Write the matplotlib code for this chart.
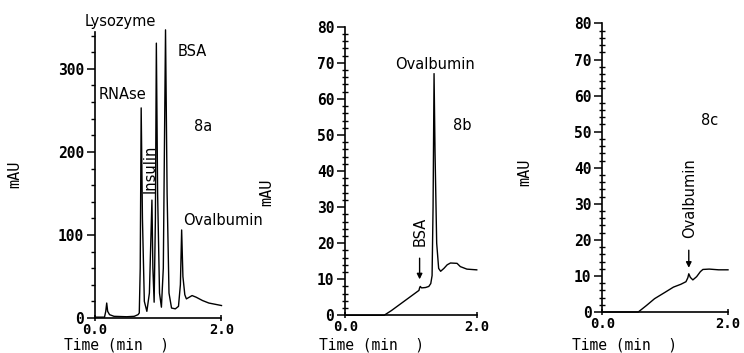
import numpy as np
import matplotlib
matplotlib.use("Agg")
import matplotlib.pyplot as plt
from matplotlib.ticker import MultipleLocator, FixedLocator

# chromatogram traces (time in min, absorbance in mAU)
time_a = [0.0, 0.15, 0.17, 0.185, 0.20, 0.23, 0.30, 0.50, 0.62, 0.68, 0.70, 0.715, 0.73, 0.75,
          0.78, 0.82, 0.86, 0.90, 0.915, 0.935, 0.955, 0.97, 0.99, 1.02, 1.05, 1.08, 1.115,
          1.14, 1.17, 1.21, 1.27, 1.32, 1.35, 1.37, 1.39, 1.42, 1.445, 1.49, 1.535, 1.60,
          1.70, 1.80, 1.90, 2.0]
mau_a = [1, 1, 8, 18, 8, 4, 2, 1.5, 2, 4, 6, 60, 253, 120,
         20, 8, 30, 142, 60, 19, 120, 331, 150, 30, 13, 60, 347,
         150, 30, 12, 11, 14, 40, 106, 50, 28, 23, 25, 27, 25,
         21, 18, 16.5, 15]

time_b = [0.0, 0.59, 0.70, 0.85, 1.0, 1.12, 1.13, 1.14, 1.16, 1.22, 1.27, 1.30, 1.32, 1.335,
          1.35, 1.365, 1.39, 1.42, 1.45, 1.50, 1.55, 1.60, 1.70, 1.75, 1.85, 2.0]
mau_b = [0, 0, 1.3, 3.3, 5.3, 6.9, 7.6, 8.0, 7.6, 7.7, 8.0, 8.8, 11, 30,
         67, 45, 20, 13, 12.2, 13, 14, 14.5, 14.4, 13.5, 12.8, 12.6]

time_c = [0.0, 0.57, 0.70, 0.83, 1.0, 1.13, 1.25, 1.33, 1.36, 1.375, 1.40, 1.44, 1.50, 1.56,
          1.60, 1.70, 1.85, 2.0]
mau_c = [0, 0, 1.8, 3.7, 5.5, 6.9, 7.7, 8.4, 9.5, 10.6, 9.6, 8.9, 9.8, 11.2,
         11.8, 11.9, 11.7, 11.7]

xticks = [0.0, 2.0]
xtick_labels = ["0.0", "2.0"]
yticks_a = [0, 100, 200, 300]
yticks_bc = [0, 10, 20, 30, 40, 50, 60, 70, 80]

mono = "DejaVu Sans Mono"
sans = "DejaVu Sans"

fig = plt.figure(figsize=(7.44, 3.53), dpi=100)
fig.patch.set_facecolor("white")

ax_a = fig.add_axes([0.1277, 0.0992, 0.170, 0.828])
ax_b = fig.add_axes([0.4642, 0.1068, 0.1766, 0.8175])
ax_c = fig.add_axes([0.8098, 0.1161, 0.1687, 0.8175])

ax_a.plot(time_a, mau_a, color="black", lw=1.0, clip_on=False)
ax_b.plot(time_b, mau_b, color="black", lw=1.0, clip_on=False)
ax_c.plot(time_c, mau_c, color="black", lw=1.0, clip_on=False)

ax_a.set_ylim(0, 352)
ax_b.set_ylim(0, 80)
ax_c.set_ylim(0, 80)

for ax in [ax_a, ax_b, ax_c]:
    ax.set_xlim(0, 2.0)
    ax.set_facecolor("white")
    ax.spines["top"].set_visible(False)
    ax.spines["right"].set_visible(False)
    ax.spines["left"].set_linewidth(1.2)
    ax.spines["bottom"].set_linewidth(1.2)
    ax.xaxis.set_major_locator(FixedLocator(xticks))
    ax.set_xticklabels(xtick_labels, fontfamily=mono, fontweight="bold", fontsize=10)
    ax.tick_params(axis="x", direction="inout", length=5, width=1.1, pad=1)
    ax.tick_params(axis="y", which="major", direction="out", length=6, width=1.1, pad=2)

# x axis captions, placed just under the tick labels
for x0 in [64, 319, 572]:
    fig.text(x0 / 744, 1 / 353, "Time (min  )", fontfamily=mono, fontsize=10.5,
             ha="left", va="bottom")

ax_a.spines["left"].set_bounds(0, 344)
ax_a.yaxis.set_major_locator(FixedLocator(yticks_a))
ax_a.set_yticklabels([str(v) for v in yticks_a], fontfamily=mono, fontweight="bold", fontsize=10.5)
ax_a.yaxis.set_minor_locator(FixedLocator(np.arange(20, 341, 20)))
ax_a.tick_params(axis="y", which="minor", direction="out", length=3, width=1.0)

for ax in [ax_b, ax_c]:
    ax.yaxis.set_major_locator(FixedLocator(yticks_bc))
    ax.set_yticklabels([str(v) for v in yticks_bc], fontfamily=mono, fontweight="bold", fontsize=10.5)
    ax.yaxis.set_minor_locator(MultipleLocator(2))
    ax.tick_params(axis="y", which="minor", direction="inout", length=4, width=1.0)

# y axis labels
ax_a.text(-1.265, 172.8, "mAU", rotation=90, fontfamily=mono, fontsize=11, ha="center", va="center")
ax_b.text(-1.193, 34, "mAU", rotation=90, fontfamily=mono, fontsize=11, ha="center", va="center")
ax_c.text(-1.235, 38.6, "mAU", rotation=90, fontfamily=mono, fontsize=11, ha="center", va="center")

# peak labels, panel a
ax_a.text(0.395, 357.6, "Lysozyme", fontfamily=sans, fontsize=10.5, ha="center", va="center")
ax_a.text(1.534, 320.6, "BSA", fontfamily=sans, fontsize=10.5, ha="center", va="center")
ax_a.text(0.427, 269, "RNAse", fontfamily=sans, fontsize=10.5, ha="center", va="center")
ax_a.text(1.715, 230.6, "8a", fontfamily=sans, fontsize=10.5, ha="center", va="center")
ax_a.text(0.87, 180, "Insulin", rotation=90, fontfamily=sans, fontsize=10.5, ha="center", va="center")
ax_a.text(2.03, 116.8, "Ovalbumin", fontfamily=sans, fontsize=10.5, ha="center", va="center")

# panel b
ax_b.text(1.361, 69.6, "Ovalbumin", fontfamily=sans, fontsize=10.5, ha="center", va="center")
ax_b.text(1.782, 52.6, "8b", fontfamily=sans, fontsize=10.5, ha="center", va="center")
ax_b.text(1.135, 23.3, "BSA", rotation=90, fontfamily=sans, fontsize=10.5, ha="center", va="center")
ax_b.annotate("", xy=(1.13, 9.2), xytext=(1.13, 16.6),
              arrowprops=dict(arrowstyle="-|>", color="black", lw=1.0, mutation_scale=8))

# panel c
ax_c.text(1.394, 31.7, "Ovalbumin", rotation=90, fontfamily=sans, fontsize=10.5, ha="center", va="center")
ax_c.text(1.713, 53, "8c", fontfamily=sans, fontsize=10.5, ha="center", va="center")
ax_c.annotate("", xy=(1.375, 11.5), xytext=(1.375, 17.9),
              arrowprops=dict(arrowstyle="-|>", color="black", lw=1.0, mutation_scale=8))

fig.savefig("out.png", dpi=100, facecolor="white")
